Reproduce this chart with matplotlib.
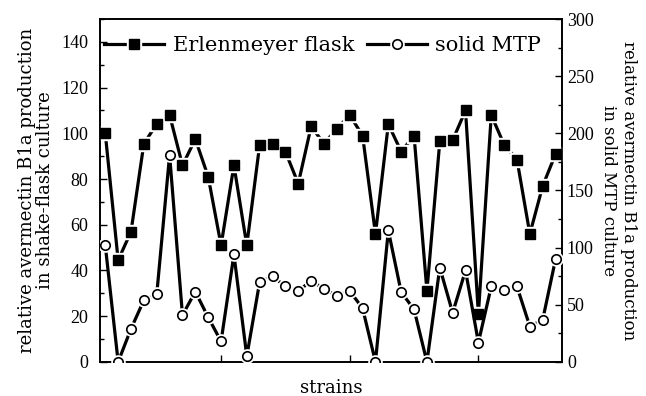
import matplotlib
matplotlib.use("Agg")
import matplotlib.pyplot as plt
from matplotlib.ticker import MultipleLocator, NullFormatter

plt.rcParams['font.family'] = ['Liberation Serif', 'DejaVu Serif']
LBL = ['DejaVu Serif', 'Liberation Serif']

strains = list(range(1, 37))
erlenmeyer = [100, 44.5, 57, 95.5, 104, 108, 86, 97.5, 81, 51, 86, 51,
              95, 95.5, 92, 78, 103, 95.5, 102, 108, 99, 56, 104, 92,
              99, 31, 96.5, 97, 110, 21, 108, 95, 88.5, 56, 77, 91]
solid_mtp = [102, 0, 29, 54, 59, 181, 41, 61.5, 39, 18, 94, 5,
             70, 75, 66, 62, 71, 64, 58, 62, 47, 0, 115, 61,
             46, 0, 82.5, 43, 80, 17, 66, 63, 66, 31, 37, 90]

fig = plt.figure(figsize=(6.46, 3.96), dpi=100)
ax = fig.add_axes([0.155, 0.086, 0.715, 0.866])
ax2 = ax.twinx()

LW = 2.3
l1, = ax.plot(strains, erlenmeyer, color='black', lw=LW, zorder=2)
h1, = ax.plot(strains, erlenmeyer, ls='none', marker='s', ms=10, mfc='white', mec='white', zorder=3)
m1, = ax.plot(strains, erlenmeyer, ls='none', marker='s', ms=7.2, mfc='black', mec='black', zorder=4)

l2, = ax2.plot(strains, solid_mtp, color='black', lw=LW, zorder=2)
h2, = ax2.plot(strains, solid_mtp, ls='none', marker='o', ms=9.5, mfc='white', mec='white', zorder=3)
m2, = ax2.plot(strains, solid_mtp, ls='none', marker='o', ms=6.8, mfc='white', mec='black', mew=1.2, zorder=4)

ax.set_xlim(0.6, 36.5)
ax.set_ylim(0, 150)
ax2.set_ylim(0, 300)

ax.xaxis.set_major_locator(MultipleLocator(10))
ax.xaxis.set_major_formatter(NullFormatter())
ax.yaxis.set_major_locator(MultipleLocator(20))
ax.yaxis.set_minor_locator(MultipleLocator(10))
ax2.yaxis.set_major_locator(MultipleLocator(50))
ax2.yaxis.set_minor_locator(MultipleLocator(25))

ax.tick_params(axis='x', direction='in', length=5, width=1, top=False)
ax.tick_params(axis='y', which='both', direction='in', width=1, labelsize=13, pad=8.5)
ax.tick_params(axis='y', which='major', length=5)
ax.tick_params(axis='y', which='minor', length=3)
ax2.tick_params(axis='y', which='both', direction='in', width=1, labelsize=13, pad=3.5)
ax2.tick_params(axis='y', which='major', length=5)
ax2.tick_params(axis='y', which='minor', length=3)

for a in (ax, ax2):
    for s in a.spines.values():
        s.set_linewidth(1.2)

ax.set_xlabel('strains', fontsize=13, family=LBL, labelpad=9)
ax.set_ylabel('relative avermectin B1a production\nin shake-flask culture', fontsize=13,
              family=LBL, labelpad=5, linespacing=1.0)
ax2.set_ylabel('relative avermectin B1a production\nin solid MTP culture', fontsize=12,
               family=LBL, rotation=270, labelpad=31, linespacing=1.2)

ax.legend([(l1, h1, m1), (l2, h2, m2)], ['Erlenmeyer flask', 'solid MTP'], loc='upper left',
          bbox_to_anchor=(0.008, 0.95), ncol=2, frameon=False, prop={'family': LBL, 'size': 15},
          handlelength=2.9, columnspacing=0.6, handletextpad=0.4, borderaxespad=0, borderpad=0)

fig.savefig('out.png', dpi=100)
